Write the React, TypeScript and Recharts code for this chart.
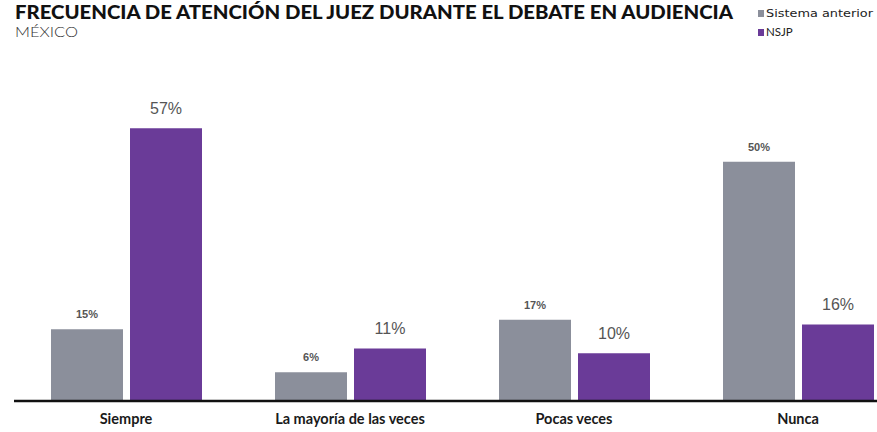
import { Bar, BarChart, LabelList, XAxis, YAxis } from 'recharts'

const categories = ['Siempre', 'La mayoría de las veces', 'Pocas veces', 'Nunca']
const sistemaAnterior = [15, 6, 17, 50]
const nsjp = [57, 11, 10, 16]

const GREY = '#8b8f9b'
const PURPLE = '#6a3b98'

const data = categories.map((name, i) => ({
  name,
  anterior: sistemaAnterior[i],
  nsjp: nsjp[i],
}))

const pct = (v: number) => `${v}%`

export default function App() {
  return (
    <div
      style={{
        position: 'absolute',
        left: 0,
        top: 0,
        width: 877,
        height: 432,
        overflow: 'hidden',
        background: '#fff',
      }}
    >
      <svg width={877} height={60} style={{ position: 'absolute', left: 0, top: 0 }}>
        <text
          x={15}
          y={18.5}
          fontFamily="Lato"
          fontWeight={900}
          fontSize={18.5}
          fill="#111"
          textLength={718}
          lengthAdjust="spacingAndGlyphs"
        >
          FRECUENCIA DE ATENCIÓN DEL JUEZ DURANTE EL DEBATE EN AUDIENCIA
        </text>
        <text
          x={15}
          y={37}
          fontFamily="Lato"
          fontWeight={300}
          fontSize={14.5}
          fill="#333"
          textLength={63}
          lengthAdjust="spacingAndGlyphs"
        >
          MÉXICO
        </text>
        <rect x={758} y={10} width={6} height={7} fill={GREY} />
        <text
          x={766}
          y={17}
          fontFamily="DejaVu Sans"
          fontSize={11}
          fill="#222"
          textLength={107}
          lengthAdjust="spacingAndGlyphs"
        >
          Sistema anterior
        </text>
        <rect x={758} y={29} width={6} height={7} fill={PURPLE} />
        <text x={766} y={36} fontFamily="Lato" fontSize={11.5} fill="#222">
          NSJP
        </text>
      </svg>
      <div style={{ position: 'absolute', left: 0, top: 0 }}>
        <BarChart
          width={920}
          height={432}
          data={data}
          margin={{ top: 114, right: 10, left: 14, bottom: 0 }}
          barSize={72}
          barGap={7}
        >
          <YAxis hide domain={[0, 60]} />
          <XAxis
            dataKey="name"
            height={31}
            axisLine={{ stroke: '#111', strokeWidth: 2.5 }}
            tickLine={false}
            tickMargin={7}
            interval={0}
            tick={{ fontSize: 14.5, fontWeight: 700, fill: '#1a1a1a', fontFamily: 'Lato' }}
          />
          <Bar dataKey="anterior" fill={GREY} isAnimationActive={false}>
            <LabelList
              dataKey="anterior"
              position="top"
              offset={11}
              formatter={pct}
              style={{ fontSize: 11, fontWeight: 700, fill: '#555', fontFamily: 'Liberation Sans' }}
            />
          </Bar>
          <Bar dataKey="nsjp" fill={PURPLE} isAnimationActive={false}>
            <LabelList
              dataKey="nsjp"
              position="top"
              offset={14}
              formatter={pct}
              style={{ fontSize: 16, fill: '#555', fontFamily: 'Liberation Sans' }}
            />
          </Bar>
        </BarChart>
      </div>
    </div>
  )
}
